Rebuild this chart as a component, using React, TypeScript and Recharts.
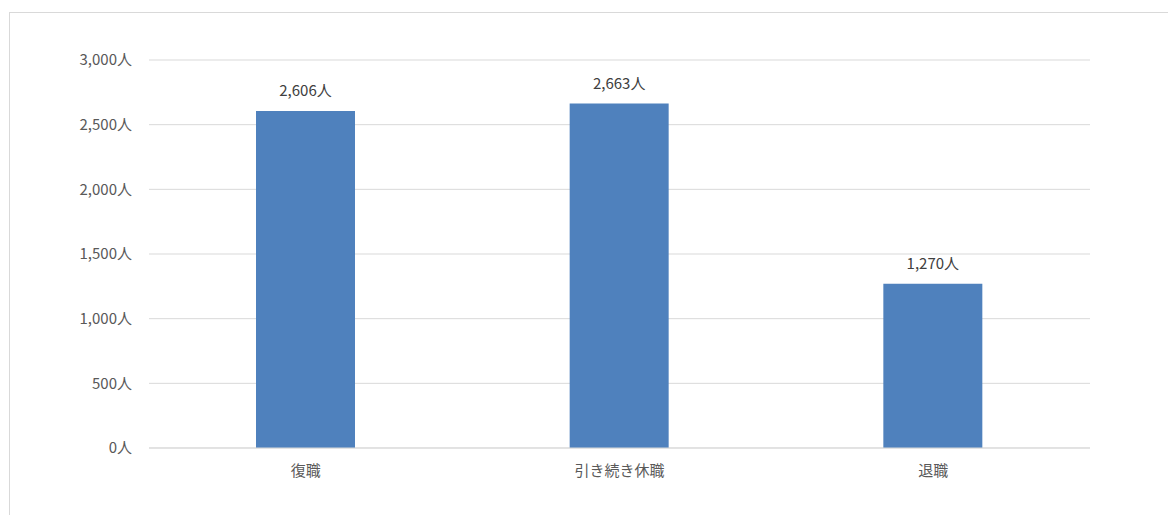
import React from "react";
import { BarChart, Bar, XAxis, YAxis, CartesianGrid, LabelList } from "recharts";

const categories = ["復職", "引き続き休職", "退職"];
const values = [2606, 2663, 1270];
const yTicks = [0, 500, 1000, 1500, 2000, 2500, 3000];

const data = categories.map((name, i) => ({ name, value: values[i] }));

const fmt = (v: number) => v.toLocaleString("en-US") + "人";

const font = '"Noto Sans CJK JP", "Noto Sans", sans-serif';

export default function App() {
  return (
    <div style={{ position: "relative", width: 1168, height: 507, overflow: "hidden", fontFamily: font }}>
      <div
        style={{
          position: "absolute",
          left: 1,
          top: 4,
          width: 1200,
          height: 600,
          border: "1px solid #d9d9d9",
        }}
      />
      <div style={{ position: "absolute", left: 0, top: 0 }}>
        <BarChart width={1168} height={507} data={data} margin={{ top: 52, right: 86, left: 1, bottom: 37 }}>
          <CartesianGrid vertical={false} stroke="#d9d9d9" />
          <XAxis
            dataKey="name"
            height={30}
            tickLine={false}
            axisLine={{ stroke: "#d9d9d9" }}
            tickSize={6}
            tickMargin={11}
            tick={{ fill: "#595959", fontSize: 15, fontFamily: font }}
          />
          <YAxis
            width={140}
            domain={[0, 3000]}
            ticks={yTicks}
            interval={0}
            tickFormatter={fmt}
            axisLine={false}
            tickLine={false}
            tickSize={6}
            tickMargin={11}
            tick={{ fill: "#595959", fontSize: 15, fontFamily: font }}
          />
          <Bar dataKey="value" fill="#4f81bd" barSize={99} isAnimationActive={false}>
            <LabelList
              dataKey="value"
              position="top"
              offset={15}
              formatter={(v: any) => fmt(Number(v))}
              style={{ fill: "#404040", fontSize: 15, fontFamily: font }}
            />
          </Bar>
        </BarChart>
      </div>
    </div>
  );
}
